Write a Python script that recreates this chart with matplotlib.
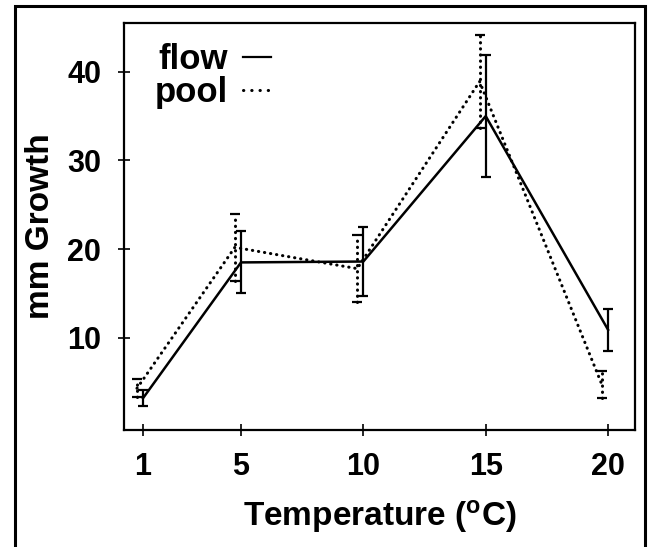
import numpy as np
import matplotlib
matplotlib.use("Agg")
import matplotlib.pyplot as plt
from matplotlib.patches import Rectangle
from matplotlib.lines import Line2D

# temperature (oC)
temp = [1, 5, 10, 15, 20]

# mm growth, flow (solid) and pool (dotted)
flow = [3.2, 18.5, 18.6, 35.0, 10.9]
flow_err = [0.9, 3.5, 3.85, 6.9, 2.4]
pool = [4.3, 20.2, 17.8, 38.9, 4.7]
pool_err = [1.0, 3.8, 3.8, 5.2, 1.5]

plt.rcParams['font.family'] = ['Liberation Sans', 'DejaVu Sans']
plt.rcParams['font.weight'] = 'bold'
plt.rcParams['mathtext.fontset'] = 'custom'
plt.rcParams['mathtext.rm'] = 'Liberation Sans:bold'
plt.rcParams['mathtext.bf'] = 'Liberation Sans:bold'
plt.rcParams['mathtext.default'] = 'bf'

fig = plt.figure(figsize=(6.56, 5.47), dpi=100)
ax = fig.add_axes([124/656, 1-430/547, (635-124)/656, (430-23)/547])

# outer frame, open at the bottom like the scan
fig.patches.append(Rectangle((15/656, -0.05), 630/656, 0.05 + 541/547,
                             transform=fig.transFigure, fill=False, lw=2.2, ec='black'))

dots = (0, (0.1, 1.9))
x = np.array(temp)
ax.errorbar(x, flow, yerr=flow_err, color='black', lw=1.8, capsize=3.5, capthick=1.6,
            elinewidth=1.6)
eb = ax.errorbar(x - 0.25, pool, yerr=pool_err, color='black', lw=2.2, capsize=3.5,
                 capthick=1.6, elinewidth=2.2, linestyle=dots)
eb[0].set_dash_capstyle('round')
for c in eb[2]:
    c.set_linestyle(dots)
    c.set_capstyle('round')

ax.set_xlim(0.22, 21.1)
ax.set_ylim(-0.4, 45.5)
ax.set_xticks(temp)
ax.set_yticks([10, 20, 30, 40])
ax.tick_params(direction='inout', length=9, width=1.2, labelsize=22)
ax.tick_params(axis='x', pad=11)
ax.tick_params(axis='y', pad=12)
for s in ax.spines.values():
    s.set_linewidth(1.6)

ax.set_xlabel('Temperature ($^{o}$C)', fontsize=24, fontweight='bold', labelpad=12)
ax.set_ylabel('mm Growth', fontsize=24, fontweight='bold', labelpad=8)

h_flow = Line2D([], [], color='black', lw=1.6)
h_pool = Line2D([], [], color='black', lw=2.2, linestyle=(0, (0.1, 2.6)), dash_capstyle='round')
ax.legend([h_flow, h_pool], ['flow', 'pool'], loc='upper left', frameon=False,
          markerfirst=False, fontsize=25, handlelength=0.8, handletextpad=0.45,
          labelspacing=0.0, borderpad=0.2, bbox_to_anchor=(0.012, 1.01))

fig.savefig('out.png', dpi=100)
